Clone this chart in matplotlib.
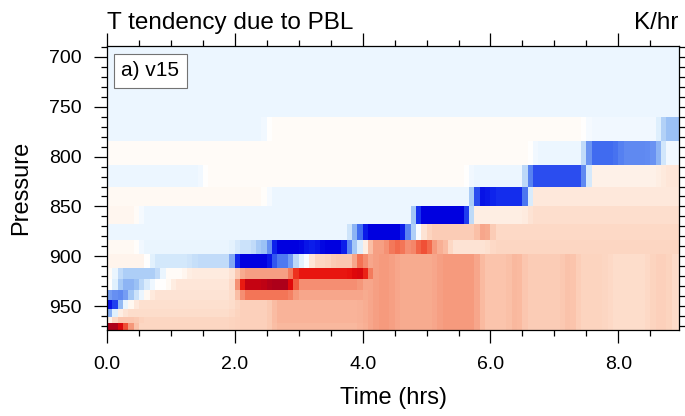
import numpy as np
import matplotlib
matplotlib.use("Agg")
import matplotlib.pyplot as plt
from matplotlib.colors import LinearSegmentedColormap, Normalize
from matplotlib.ticker import MultipleLocator, FormatStrFormatter

plt.rcParams['font.family'] = ['Liberation Sans', 'DejaVu Sans']

# layer edges (hPa), top to bottom
p_edges = [689, 712, 736, 760, 784, 808, 830, 850, 868, 884, 898, 912, 923, 934, 944, 953, 961, 967, 974]
t_max = 8.95
dt = 1.0 / 12

# heating inside the mixed layer after ~4 h, shared by the lower layers
body = [(4.17, 0.36), (4.5, 0.42), (4.83, 0.36), (5.17, 0.36), (5.83, 0.42), (6.33, 0.27),
        (6.5, 0.33), (7.17, 0.24), (7.33, 0.29), (7.83, 0.21), (8.5, 0.17), (8.83, 0.22), (9.0, 0.16)]

# each row: (end time in hrs, scaled tendency) segments
rows = [
    [(9.0, -0.04)],
    [(9.0, -0.04)],
    [(9.0, -0.04)],
    [(2.5, -0.04), (7.5, 0.02), (8.67, -0.03), (9.0, -0.3)],
    [(6.67, 0.02), (7.5, -0.04), (8.0, -0.6), (8.5, -0.5), (8.67, -0.45), (9.0, -0.03)],
    [(1.5, -0.04), (5.67, 0.02), (6.58, -0.04), (7.5, -0.68), (8.67, 0.07), (9.0, 0.12)],
    [(2.5, 0.03), (5.75, -0.04), (6.0, -0.9), (6.58, -0.78), (9.0, 0.11)],
    [(0.5, 0.04), (4.83, -0.04), (5.7, -1.0), (6.58, 0.08), (9.0, 0.16)],
    [(3.8, -0.04), (4.0, -0.45), (4.7, -1.0), (4.83, -0.35), (5.0, 0.1), (5.8, 0.24),
     (6.0, 0.42), (9.0, 0.18)],
    [(0.5, 0.03), (2.0, -0.05), (2.3, -0.15), (2.6, -0.3), (3.1, -1.0), (3.3, -0.85),
     (3.75, -1.0), (3.9, -0.35), (4.05, -0.02), (4.45, 0.4), (4.67, 0.55), (4.85, 0.42),
     (5.1, 0.62), (5.35, 0.35), (6.0, 0.14), (9.0, 0.2)],
    [(0.7, 0.05), (1.3, -0.13), (2.0, -0.18), (2.6, -1.0), (2.95, -0.55), (3.15, -0.08),
     (3.5, 0.2), (3.9, 0.26), (4.0, 0.75)] + body,
    [(0.17, 0.02), (0.8, -0.25), (1.25, 0.02), (2.0, 0.1), (2.1, 0.25), (2.95, 0.4),
     (3.85, 0.8), (4.1, 0.88)] + body,
    [(0.17, 0.0), (0.47, -0.35), (0.63, -0.15), (1.0, 0.0), (2.0, 0.12), (2.1, 0.35),
     (2.5, 0.93), (2.95, 1.0), (4.0, 0.45)] + body,
    [(0.1, -0.4), (0.32, -0.5), (0.53, -0.2), (0.68, 0.0), (2.0, 0.14), (2.1, 0.25),
     (2.95, 0.52), (4.0, 0.38)] + body,
    [(0.14, -0.9), (0.27, -0.2), (0.42, 0.0), (2.0, 0.15), (2.6, 0.22), (4.0, 0.33)] + body,
    [(0.08, -0.5), (0.22, 0.05), (2.0, 0.17), (2.6, 0.22), (4.0, 0.33)] + body,
    [(0.1, 0.0), (0.5, 0.26), (2.0, 0.2), (2.6, 0.22), (4.0, 0.33)] + body,
    [(0.27, 1.0), (0.42, 0.5), (2.0, 0.2), (2.6, 0.22), (4.0, 0.32)] + body,
]

t_edges = np.arange(0, 9.0 + dt / 2, dt)
t_mid = t_edges[:-1] + dt / 2


def fill_row(segs):
    out = []
    for t in t_mid:
        for end, v in segs:
            if t < end:
                out.append(v)
                break
        else:
            out.append(segs[-1][1])
    return out


Z = np.array([fill_row(r) for r in rows])
# soften the steps in time a little, like the raster fill of the original
Zp = np.pad(Z, ((0, 0), (1, 1)), mode='edge')
Z = 0.25 * Zp[:, :-2] + 0.5 * Zp[:, 1:-1] + 0.25 * Zp[:, 2:]

anchors = [
    (-1.0, (0.0, 0.0, 0.88)),
    (-0.8, (0.06, 0.15, 0.93)),
    (-0.6, (0.25, 0.42, 0.94)),
    (-0.3, (0.61, 0.76, 0.96)),
    (-0.15, (0.80, 0.89, 0.98)),
    (-0.1, (0.87, 0.935, 0.99)),
    (-0.03, (0.94, 0.972, 1.0)),
    (0.0, (1.0, 1.0, 1.0)),
    (0.03, (1.0, 0.975, 0.95)),
    (0.12, (0.995, 0.905, 0.85)),
    (0.2, (0.99, 0.84, 0.76)),
    (0.3, (0.98, 0.74, 0.64)),
    (0.4, (0.965, 0.63, 0.52)),
    (0.55, (0.95, 0.42, 0.30)),
    (0.7, (0.93, 0.2, 0.12)),
    (0.85, (0.90, 0.03, 0.03)),
    (1.0, (0.68, 0.0, 0.10)),
]
cmap = LinearSegmentedColormap.from_list("bwr_ncl", [((v + 1) / 2, c) for v, c in anchors])

fig = plt.figure(figsize=(6.85, 4.16), dpi=100)
ax = fig.add_axes([107 / 685, 1 - 330 / 416, 572 / 685, 284 / 416])
ax.pcolormesh(t_edges, p_edges, Z, cmap=cmap, norm=Normalize(-1, 1), shading='flat')
ax.set_xlim(0, t_max)
ax.set_ylim(974, 689)

ax.xaxis.set_major_locator(MultipleLocator(2))
ax.xaxis.set_minor_locator(MultipleLocator(0.5))
ax.xaxis.set_major_formatter(FormatStrFormatter('%.1f'))
ax.yaxis.set_major_locator(MultipleLocator(50))
ax.yaxis.set_minor_locator(MultipleLocator(10))
ax.tick_params(which='both', direction='out', top=True, right=True, width=0.9,
               labelsize=14, pad=9)
ax.tick_params(which='major', length=9.5)
ax.tick_params(which='minor', length=4.5)
for s in ax.spines.values():
    s.set_linewidth(0.9)

ax.text(0.076, 0.912, 'a) v15', transform=ax.transAxes, ha='center', va='center', fontsize=15,
        bbox=dict(boxstyle='square,pad=0.35', fc='white', ec='0.45', lw=0.8))

fig.text(107 / 685, 1 - 29 / 416, 'T tendency due to PBL', fontsize=17.5, ha='left', va='baseline')
fig.text(678 / 685, 1 - 29 / 416, 'K/hr', fontsize=17.5, ha='right', va='baseline')
fig.text(393 / 685, 1 - 398 / 416, 'Time (hrs)', fontsize=17, ha='center', va='center')
fig.text(21.5 / 685, 1 - 188 / 416, 'Pressure', fontsize=17, ha='center', va='center', rotation=90)

fig.savefig('out.png', dpi=100)
